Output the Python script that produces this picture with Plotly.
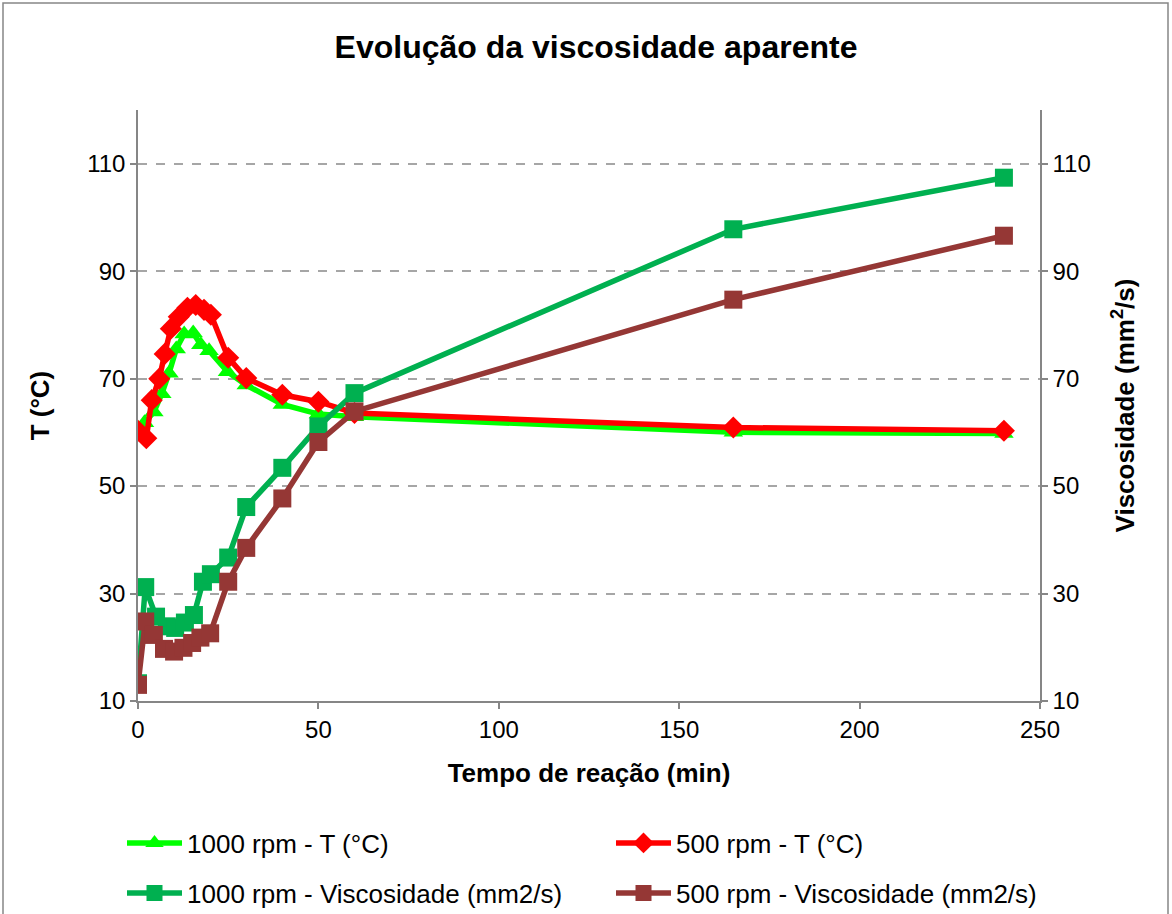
import plotly.graph_objects as go

# ---- data ----
t_1000_T = [0, 1.8, 4.4, 6.6, 8.6, 10.6, 12.8, 15.3, 17.4, 19.7, 24.8, 30, 40, 50, 60, 165, 240]
T_1000 = [60.0, 61.8, 63.8, 67.2, 71.0, 75.5, 78.3, 78.5, 76.3, 75.2, 71.3, 68.8, 65.2, 63.4, 62.9, 60.0, 59.8]

t_500_T = [0, 2.3, 3.8, 5.9, 7.4, 9.1, 11.3, 13.7, 16, 18.3, 20.2, 25, 30, 40, 50, 60, 165, 240]
T_500 = [60.3, 58.9, 66.0, 70.0, 74.6, 79.3, 81.5, 83.2, 83.7, 82.8, 81.9, 73.9, 70.1, 67.0, 65.7, 63.6, 60.9, 60.3]

t_1000_V = [0, 2, 5, 8, 10.3, 13, 15.5, 18, 20.2, 25, 30, 40, 50, 60, 165, 240]
V_1000 = [13.3, 31.2, 25.7, 23.9, 23.6, 24.6, 26.0, 32.2, 33.6, 36.7, 46.1, 53.4, 61.1, 67.3, 97.8, 107.4]

t_500_V = [0, 2, 4.4, 7.2, 10, 12.6, 15, 17.3, 20, 25, 30, 40, 50, 60, 165, 240]
V_500 = [13.0, 24.8, 22.3, 19.7, 19.2, 19.9, 20.8, 21.8, 22.6, 32.2, 38.5, 47.7, 58.2, 63.9, 84.7, 96.6]

names = ["1000 rpm - T (°C)", "500 rpm - T (°C)",
         "1000 rpm - Viscosidade (mm2/s)", "500 rpm - Viscosidade (mm2/s)"]
y_ticks = [10, 30, 50, 70, 90, 110]
x_ticks = [0, 50, 100, 150, 200, 250]

FONT = "Liberation Sans, Arial, sans-serif"

fig = go.Figure()
fig.add_trace(go.Scatter(x=t_1000_T, y=T_1000, name=names[0], mode="lines+markers",
                         line=dict(color="#00FF00", width=5.5),
                         marker=dict(symbol="triangle-up", size=17, color="#00FF00"),
                         legend="legend"))
fig.add_trace(go.Scatter(x=t_500_T, y=T_500, name=names[1], mode="lines+markers",
                         line=dict(color="#FF0000", width=5.5),
                         marker=dict(symbol="diamond", size=17, color="#FF0000"),
                         legend="legend2"))
fig.add_trace(go.Scatter(x=t_1000_V, y=V_1000, name=names[2], mode="lines+markers",
                         line=dict(color="#00B050", width=5.5),
                         marker=dict(symbol="square", size=18, color="#00B050"),
                         yaxis="y2", legend="legend3"))
fig.add_trace(go.Scatter(x=t_500_V, y=V_500, name=names[3], mode="lines+markers",
                         line=dict(color="#953735", width=5.5),
                         marker=dict(symbol="square", size=18, color="#953735"),
                         yaxis="y2", legend="legend4"))

L, R, T, B = 138, 1040, 110, 701
W, H = 1172, 914
pw, ph = R - L, B - T

def px(x):
    return (x - L) / pw

def py(y):
    return (B - y) / ph

axis_common = dict(
    range=[10, 120], tickvals=y_ticks, showline=True, linecolor="#868686", linewidth=1.5,
    ticks="outside", ticklen=6, tickcolor="#868686", tickwidth=1.5,
    tickfont=dict(family=FONT, size=24, color="black"), zeroline=False, automargin=False,
)

def leg(x, y, anchor="middle"):
    return dict(orientation="h", x=px(x), xanchor="left", y=py(y), yanchor=anchor,
                itemwidth=55, font=dict(family=FONT, size=26, color="black"),
                bgcolor="rgba(0,0,0,0)")

fig.update_layout(
    width=W, height=H,
    margin=dict(l=L, r=W - R, t=T, b=H - B, autoexpand=False),
    paper_bgcolor="white", plot_bgcolor="white",
    font=dict(family=FONT, color="black"),
    title=dict(text="<b>Evolução da viscosidade aparente</b>", x=596 / W, xanchor="center",
               xref="container", y=1 - 47 / H, yanchor="middle", yref="container",
               font=dict(family=FONT, size=32, color="black")),
    xaxis=dict(range=[0, 250], tickvals=x_ticks, showline=True, linecolor="#868686",
               linewidth=1.5, ticks="outside", ticklen=6, tickcolor="#868686", tickwidth=1.5,
               showgrid=False, zeroline=False, automargin=False,
               tickfont=dict(family=FONT, size=24, color="black"),
               title=dict(text="<b>Tempo de reação (min)</b>", standoff=22,
                          font=dict(family=FONT, size=26, color="black"))),
    yaxis=dict(**axis_common, showgrid=True, gridcolor="#A6A6A6", griddash="dash", gridwidth=1.5,
               title=dict(text="<b>T (°C)</b>", standoff=30,
                          font=dict(family=FONT, size=26, color="black"))),
    yaxis2=dict(**axis_common, overlaying="y", side="right", showgrid=False,
                title=dict(text="<b>Viscosidade (mm<sup>2</sup>/s)</b>", standoff=26,
                           font=dict(family=FONT, size=26, color="black"))),
    legend=leg(122, 843),
    legend2=leg(611, 843),
    legend3=leg(122, 893),
    legend4=leg(611, 893),
    showlegend=True,
    shapes=[dict(type="rect", xref="paper", yref="paper",
                 x0=px(3), x1=px(1168), y0=py(930), y1=py(3),
                 line=dict(color="#868686", width=1.5), layer="below")],
)

fig.write_html("out.html")
